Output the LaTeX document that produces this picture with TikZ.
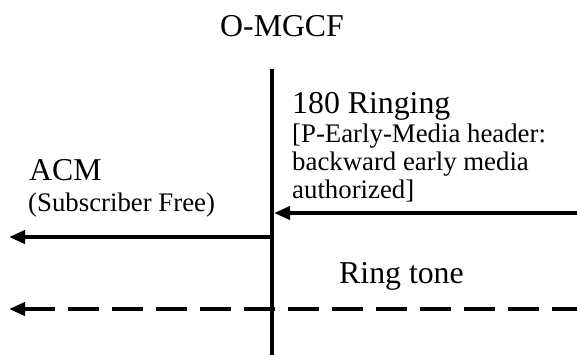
\documentclass[tikz,border=0pt]{standalone}
\usepackage{fontspec}
\setmainfont{Liberation Serif}
\usetikzlibrary{arrows.meta}
\tikzset{
  big/.style={font=\fontsize{31.8}{33}\selectfont, inner sep=0pt, anchor=base west},
  small/.style={font=\fontsize{26.8}{28}\selectfont, inner sep=0pt, anchor=base west},
  msg/.style={line width=3.8pt, -{Triangle[length=16pt,width=13pt]}},
  media/.style={msg, dash pattern=on 31pt off 13pt, dash phase=4pt},
  life/.style={line width=3.8pt}
}
\begin{document}
\begin{tikzpicture}[x=1pt,y=-1pt]
\useasboundingbox (0,0) rectangle (577,354);
% title
\node[big] (title) at (220,36) {O-MGCF};
% lifeline
\coordinate (ltop) at (272,69);
\coordinate (lbot) at (272,356);
\draw[life] (ltop) -- (lbot);
% labels
\node[big] (ring) at (292,113) {180 Ringing};
\node[small] (r1) at (292,142) {[P-Early-Media header:};
\node[small] (r2) at (292,170) {backward early media};
\node[small] (r3) at (292,198) {authorized]};
\node[big] (acm) at (29,180) {ACM};
\node[small] (acm2) at (28,211) {(Subscriber Free)};
\node[big] (tone) at (339,283) {Ring tone};
% messages
\coordinate (m1s) at (579,213);
\coordinate (m1e) at (274,213);
\coordinate (m2s) at (272,237);
\coordinate (m2e) at (9,237);
\coordinate (m3s) at (579,309);
\coordinate (m3e) at (9,309);
\draw[msg] (m1s) -- (m1e);
\draw[msg] (m2s) -- (m2e);
\draw[media] (m3s) -- (m3e);
\end{tikzpicture}
\end{document}
